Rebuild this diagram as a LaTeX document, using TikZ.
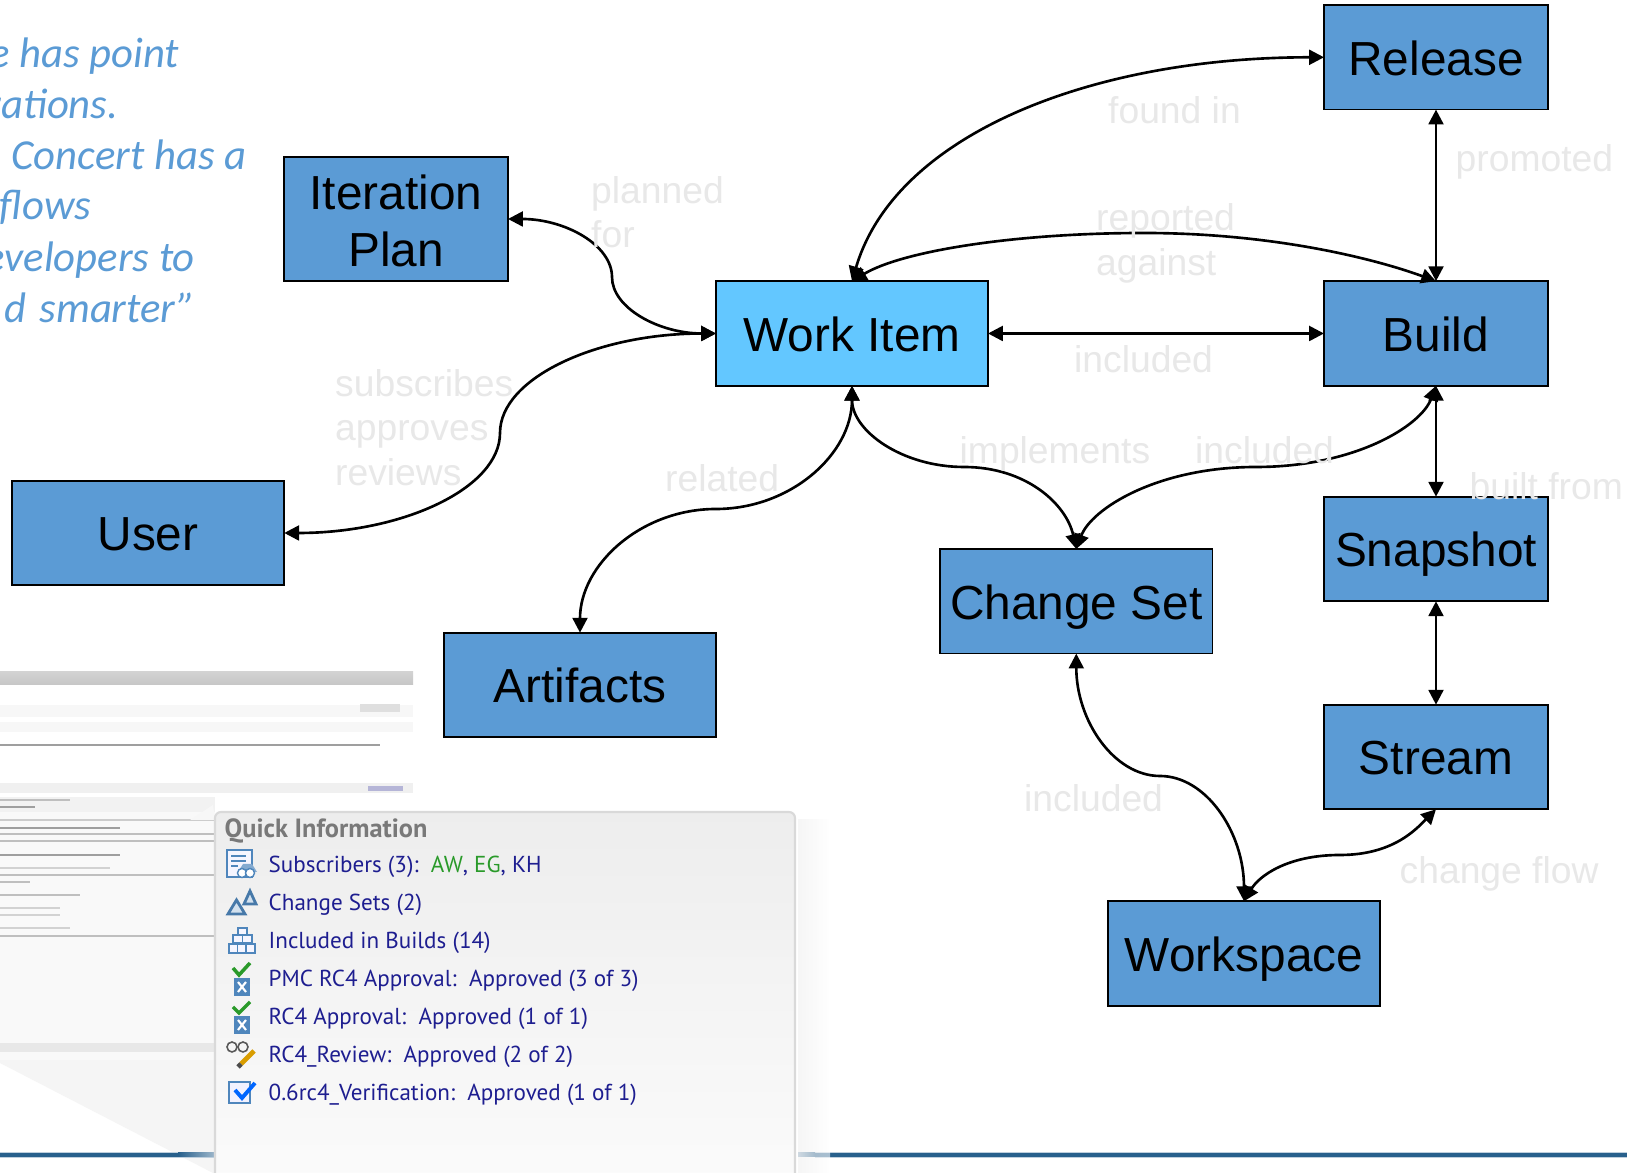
\documentclass[tikz,border=0pt]{standalone}
\usepackage{fontspec}
\setmainfont{Liberation Sans}
\newfontfamily\quotefont{Carlito}
\newfontfamily\panelfont{PT Sans}
\usetikzlibrary{arrows.meta}
\definecolor{boxblue}{HTML}{5B9BD5}
\definecolor{itemblue}{HTML}{63C7FF}
\definecolor{faint}{HTML}{E8E8E8}
\definecolor{rulerblue}{HTML}{28608C}
\definecolor{paneltext}{HTML}{1E1E90}
\definecolor{panelgreen}{HTML}{2A9A2A}
\definecolor{iconblue}{HTML}{4F86BC}
\tikzset{
  boxnode/.style={draw=black, line width=0.5pt, fill=boxblue, outer sep=0pt, inner sep=0pt,
    align=center, minimum width=2.24cm, minimum height=1.046cm,
    text height=12.4pt, text depth=2.3pt,
    font=\fontsize{13.6}{16.3}\selectfont},
  widebox/.style={boxnode, minimum width=2.725cm},
  link/.style={line width=0.75pt, {Triangle[length=4.2pt,width=4.2pt]}-{Triangle[length=4.2pt,width=4.2pt]}},
  faintlabel/.style={text=faint, anchor=base west, inner sep=0pt, font=\fontsize{10.6}{12}\selectfont},
  quoteline/.style={text=boxblue, anchor=base east, inner sep=0pt, font=\quotefont\itshape\fontsize{12.15}{14}\selectfont},
  panelline/.style={text=paneltext, anchor=base west, inner sep=0pt, font=\panelfont\fontsize{6.57}{8}\selectfont},
  scrapline/.style={line width=0.55pt, draw=gray!75},
  icon/.style={draw=iconblue, line width=0.4pt, fill=white}
}
\begin{document}
\begin{tikzpicture}
\useasboundingbox (0,0) rectangle (16.27,-11.73);

\fill[white] (0,0) rectangle (16.27,-11.73);

\fill[gray!8] (0,-10.6) -- (4.13,-10.6) -- (4.13,-11.73) -- (2.13,-11.73) -- (0,-10.63) -- cycle;
\shade[top color=gray!35, bottom color=gray!45] (0,-6.72) rectangle (4.13,-6.85);
\fill[gray!6] (0,-7.05) rectangle (4.13,-7.17);
\fill[gray!6] (0,-7.22) rectangle (4.13,-7.32);
\fill[gray!12] (0,-7.83) rectangle (4.13,-7.93);
\fill[gray!10] (0,-7.97) rectangle (2.15,-8.12);
\fill[gray!5] (0,-8.12) rectangle (2.15,-10.6);
\fill[gray!18] (0,-10.43) rectangle (2.15,-10.52);
\draw[scrapline] (0,-7.45) -- (3.8,-7.45);
\draw[scrapline, gray!50] (0,-8.0) -- (0.7,-8.0);
\draw[scrapline] (0,-8.07) -- (0.35,-8.07);
\draw[scrapline, gray!40] (0,-8.2) -- (2.15,-8.2);
\draw[scrapline] (0,-8.28) -- (1.2,-8.28);
\draw[scrapline, gray!50] (0,-8.34) -- (2.15,-8.34);
\draw[scrapline, gray!50] (0,-8.41) -- (2.15,-8.41);
\draw[scrapline] (0,-8.55) -- (1.2,-8.55);
\draw[scrapline, gray!35] (0,-8.68) -- (1.1,-8.68);
\draw[scrapline, gray!50] (0,-8.75) -- (2.15,-8.75);
\draw[scrapline, gray!50] (0,-8.82) -- (0.3,-8.82);
\draw[scrapline, gray!50] (0,-8.95) -- (0.8,-8.95);
\draw[scrapline, gray!35] (0,-9.08) -- (0.6,-9.08);
\draw[scrapline, gray!35] (0,-9.15) -- (0.6,-9.15);
\draw[scrapline, gray!35] (0,-9.28) -- (0.7,-9.28);
\draw[scrapline, gray!50] (0,-9.36) -- (2.15,-9.36);
\fill[blue!30!gray!45] (3.68,-7.86) rectangle (4.03,-7.91);
\fill[gray!25] (3.6,-7.04) rectangle (4.0,-7.12);

\draw[line width=1.7pt, rulerblue!30] (0,-11.55) -- (2.15,-11.55);
\draw[line width=1.7pt, rulerblue!30] (8.15,-11.55) -- (16.27,-11.55);
\draw[line width=1.1pt, rulerblue] (0,-11.55) -- (1.78,-11.55);
\shade[left color=rulerblue, right color=rulerblue!45] (1.78,-11.53) rectangle (2.15,-11.57);
\shade[left color=rulerblue!45, right color=rulerblue] (7.98,-11.53) rectangle (8.15,-11.57);
\draw[line width=1.1pt, rulerblue] (8.15,-11.55) -- (16.27,-11.55);
\shade[left color=gray!12, right color=white, opacity=0.6] (7.98,-8.2) rectangle (8.3,-11.73);

\fill[gray!6] (2.13,-8.05) -- (1.9,-8.2) -- (2.15,-8.2) -- cycle;
\shade[top color=gray!14, bottom color=gray!3, draw=gray!30, line width=0.6pt, rounded corners=0.06cm]
  (2.15,-11.9) -- (2.15,-8.12) -- (7.95,-8.12) -- (7.95,-11.9) -- cycle;

\node[anchor=base west, inner sep=0pt, text=gray!95!black, font=\panelfont\bfseries\fontsize{7.5}{8}\selectfont] (quickinfo) at (2.24,-8.38) {Quick Information};
\node[panelline] (subscribers) at (2.68,-8.73) {Subscribers (3):\ \ {\color{panelgreen}AW}, {\color{panelgreen}EG}, KH};
\node[panelline] (changesets) at (2.68,-9.11) {Change Sets (2)};
\node[panelline] (inbuilds) at (2.68,-9.49) {Included in Builds (14)};
\node[panelline] (pmcapproval) at (2.68,-9.87) {PMC RC4 Approval:\ \ Approved (3 of 3)};
\node[panelline] (rcapproval) at (2.68,-10.25) {RC4 Approval:\ \ Approved (1 of 1)};
\node[panelline] (rcreview) at (2.68,-10.63) {RC4\_Review:\ \ Approved (2 of 2)};
\node[panelline] (verification) at (2.68,-11.01) {0.6rc4\_Verification:\ \ Approved (1 of 1)};

\draw[icon, fill=blue!4] (2.27,-8.50) rectangle (2.52,-8.77);
\draw[iconblue, line width=0.3pt] (2.31,-8.56) -- (2.46,-8.56) (2.31,-8.61) -- (2.46,-8.61) (2.31,-8.66) -- (2.38,-8.66);
\fill[iconblue!70] (2.38,-8.72) -- (2.43,-8.64) -- (2.52,-8.64) -- (2.57,-8.72) -- cycle;
\draw[icon] (2.42,-8.73) circle (0.045);
\draw[icon] (2.50,-8.73) circle (0.045);
\draw[iconblue!90!black, line width=0.8pt, fill=iconblue!25] (2.28,-9.14) -- (2.365,-9.0) -- (2.45,-9.14) -- cycle;
\draw[iconblue!90!black, line width=0.8pt, fill=iconblue!25] (2.44,-9.04) -- (2.50,-8.91) -- (2.56,-9.04) -- cycle;
\draw[icon, fill=blue!4] (2.38,-9.28) rectangle (2.47,-9.35);
\draw[icon, fill=blue!4] (2.33,-9.35) rectangle (2.425,-9.43);
\draw[icon, fill=blue!4] (2.425,-9.35) rectangle (2.52,-9.43);
\draw[icon, fill=blue!4] (2.29,-9.44) rectangle (2.375,-9.53);
\draw[icon, fill=blue!4] (2.375,-9.44) rectangle (2.46,-9.53);
\draw[icon, fill=blue!4] (2.46,-9.44) rectangle (2.55,-9.53);
\draw[line width=1pt, panelgreen] (2.33,-9.68) -- (2.39,-9.75) -- (2.50,-9.63);
\draw[icon, fill=iconblue] (2.35,-9.79) rectangle (2.49,-9.95);
\draw[white, line width=0.6pt] (2.38,-9.82) -- (2.46,-9.92) (2.46,-9.82) -- (2.38,-9.92);
\draw[line width=1pt, panelgreen] (2.33,-10.07) -- (2.39,-10.13) -- (2.50,-10.02);
\draw[icon, fill=iconblue] (2.35,-10.17) rectangle (2.49,-10.33);
\draw[white, line width=0.6pt] (2.38,-10.20) -- (2.46,-10.30) (2.46,-10.20) -- (2.38,-10.30);
\draw[gray!70!black, line width=0.45pt] (2.32,-10.47) circle (0.05);
\draw[gray!70!black, line width=0.45pt] (2.43,-10.47) circle (0.05);
\draw[orange!55!yellow!85!black, line width=1.4pt] (2.54,-10.51) -- (2.41,-10.64);
\draw[black!70, line width=1.4pt] (2.41,-10.64) -- (2.38,-10.67);
\draw[icon, fill=blue!5, line width=0.6pt] (2.29,-10.82) rectangle (2.50,-11.03);
\draw[line width=1.1pt, blue!60!cyan] (2.35,-10.90) -- (2.42,-10.98) -- (2.55,-10.83);

\node[quoteline] (quoteone) at (1.80,-0.675) {e has point};
\node[quoteline] (quotetwo) at (1.19,-1.185) {rations.};
\node[quoteline] (quotethree) at (2.47,-1.695) {Concert has a};
\node[quoteline] (quotefour) at (0.92,-2.20) {flows};
\node[quoteline] (quotefive) at (1.955,-2.715) {evelopers to};
\node[quoteline] (quotesix) at (1.96,-3.225) {d\hspace{1pt} smarter”};

\node[boxnode] (release) at (14.36,-0.573) {Release};
\node[boxnode] (build) at (14.36,-3.335) {Build};
\node[boxnode] (snapshot) at (14.36,-5.49) {Snapshot};
\node[boxnode] (stream) at (14.36,-7.57) {Stream};
\node[boxnode, minimum height=1.245cm, text height=, text depth=] (iteration) at (3.96,-2.19) {\rule{0pt}{11pt}Iteration\\[-0.3pt]Plan};
\node[widebox, fill=itemblue, minimum width=2.72cm] (workitem) at (8.52,-3.335) {Work Item};
\node[widebox] (user) at (1.48,-5.33) {User};
\node[widebox] (artifacts) at (5.80,-6.85) {Artifacts};
\node[widebox] (changeset) at (10.763,-6.013) {Change Set};
\node[widebox] (workspace) at (12.44,-9.535) {Workspace};

\coordinate (iterationbend) at (6.12,-2.77);
\coordinate (userbend) at (5.0,-4.33);
\coordinate (reportedbend) at (11.44,-2.33);
\coordinate (relatedbend) at (7.16,-5.09);
\coordinate (implementsbend) at (9.64,-4.67);
\coordinate (changebuildbend) at (12.56,-4.67);
\coordinate (workspacebend) at (11.6,-7.76);
\coordinate (flowbend) at (13.4,-8.55);

\draw[link] (iteration.east) .. controls +(0.57,0) and +(0,0.32) .. (iterationbend) .. controls +(0,-0.31) and +(-0.57,0) .. (workitem.west);
\draw[link] (user.east) .. controls +(1.19,0) and +(0,-0.55) .. (userbend) .. controls +(0,0.55) and +(-1.19,0) .. (workitem.west);
\draw[link] (workitem.north) .. controls +(0.43,1.46) and +(-2.34,0) .. (release.west);
\draw[link] (workitem.north) .. controls +(0.5,0.3) and +(-1.3,0) .. (reportedbend) .. controls +(1.3,0) and +(-0.6,0.22) .. (build.north);
\draw[link] (workitem.east) -- (build.west);
\draw[link] (release.south) -- (build.north);
\draw[link] (artifacts.north) .. controls +(0,0.68) and +(-0.75,0) .. (relatedbend) .. controls +(0.75,0) and +(0,-0.68) .. (workitem.south);
\draw[link] (workitem.south) .. controls +(0,-0.45) and +(-0.62,0) .. (implementsbend) .. controls +(0.62,0) and +(-0.1,0.45) .. (changeset.north);
\draw[link] (build.south) .. controls +(-0.15,-0.4) and +(0.99,0) .. (changebuildbend) .. controls +(-0.99,0) and +(0.15,0.4) .. (changeset.north);
\draw[link] (build.south) -- (snapshot.north);
\draw[link] (snapshot.south) -- (stream.north);
\draw[link] (changeset.south) .. controls +(0,-0.67) and +(-0.46,0) .. (workspacebend) .. controls +(0.46,0) and +(0,0.69) .. (workspace.north);
\draw[link] (workspace.north) .. controls +(0.15,0.25) and +(-0.53,0) .. (flowbend) .. controls +(0.53,0) and +(-0.2,-0.2) .. (stream.south);

\node[faintlabel] (foundin) at (11.075,-1.24) {found in};
\node[faintlabel] (promoted) at (14.55,-1.715) {promoted};
\node[faintlabel] (planned) at (5.905,-2.04) {planned};
\node[faintlabel] (plannedfor) at (5.905,-2.48) {for};
\node[faintlabel] (reported) at (10.955,-2.31) {reported};
\node[faintlabel] (against) at (10.955,-2.76) {against};
\node[faintlabel] (includedbuild) at (10.735,-3.73) {included};
\node[faintlabel] (subscribes) at (3.345,-3.97) {subscribes};
\node[faintlabel] (approves) at (3.345,-4.41) {approves};
\node[faintlabel] (reviews) at (3.345,-4.86) {reviews};
\node[faintlabel] (related) at (6.645,-4.92) {related};
\node[faintlabel] (implements) at (9.59,-4.635) {implements};
\node[faintlabel] (includedchange) at (11.945,-4.635) {included};
\node[faintlabel] (builtfrom) at (14.69,-5.0) {built from};
\node[faintlabel] (includedspace) at (10.235,-8.12) {included};
\node[faintlabel] (changeflow) at (13.99,-8.84) {change flow};
\end{tikzpicture}
\end{document}
